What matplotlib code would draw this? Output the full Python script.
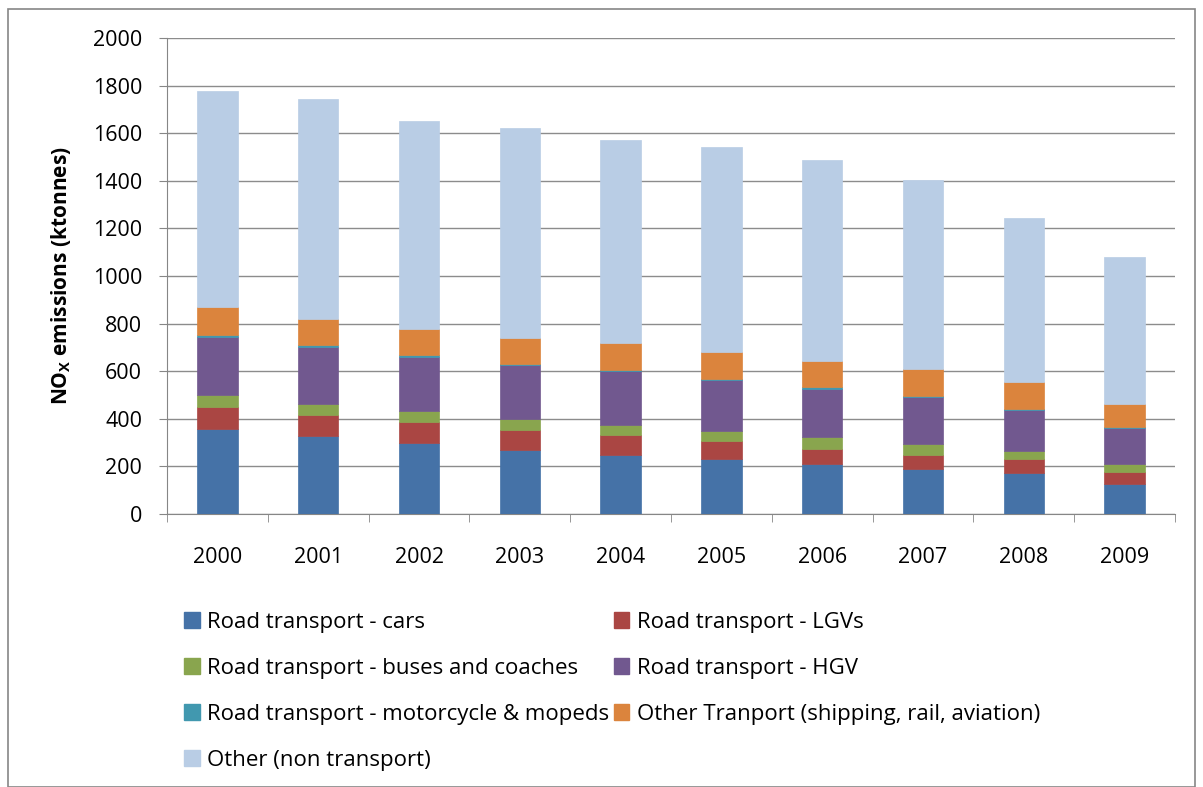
import matplotlib
matplotlib.use("Agg")
import matplotlib.pyplot as plt
from matplotlib.patches import Rectangle, Patch
import numpy as np

years = ["2000", "2001", "2002", "2003", "2004", "2005", "2006", "2007", "2008", "2009"]
cars = [359, 329, 298, 271, 250, 229, 208, 188, 173, 125]
lgvs = [89, 88, 88, 83, 83, 78, 67, 62, 56, 53]
buses = [50, 46, 46, 46, 42, 41, 48, 46, 36, 30]
hgv = [247, 240, 229, 226, 225, 215, 204, 194, 173, 153]
moto = [6, 6, 6, 4, 4, 6, 5, 4, 4, 4]
other_transport = [117, 112, 112, 108, 115, 112, 112, 114, 114, 98]
other_non_transport = [910, 924, 871, 884, 853, 859, 844, 797, 689, 615]

series = [
    ("Road transport - cars", cars, "#4572A7"),
    ("Road transport - LGVs", lgvs, "#AA4643"),
    ("Road transport - buses and coaches", buses, "#89A54E"),
    ("Road transport - HGV", hgv, "#71588F"),
    ("Road transport - motorcycle & mopeds", moto, "#4198AF"),
    ("Other Tranport (shipping, rail, aviation)", other_transport, "#DB843D"),
    ("Other (non transport)", other_non_transport, "#B9CDE5"),
]

plt.rcParams['font.family'] = ['Open Sans', 'DejaVu Sans']

W, H = 1203, 787
fig = plt.figure(figsize=(W / 100, H / 100), dpi=100)
ax = fig.add_axes([167 / W, 1 - 514 / H, (1175 - 167) / W, (514 - 38) / H])

x = np.arange(len(years))
bottom = np.zeros(len(years))
handles = []
for name, vals, col in series:
    v = np.array(vals, dtype=float)
    ax.bar(x, v, 0.4, bottom=bottom, color=col, edgecolor=col, linewidth=0.5, zorder=3)
    bottom += v
    handles.append(Patch(facecolor=col, edgecolor=col, label=name))

ax.set_xlim(-0.5, len(years) - 0.5)
ax.set_ylim(0, 2000)
ax.set_yticks(range(0, 2001, 200))
ax.set_xticks(x)
ax.set_xticklabels(years)
ax.set_xticks(np.arange(-0.5, len(years), 1.0), minor=True)
ax.tick_params(axis='x', which='major', length=0, pad=24, labelsize=15.5)
ax.tick_params(axis='x', which='minor', length=6, color='#868686', direction='out')
ax.tick_params(axis='y', length=6, color='#868686', direction='out', pad=12, labelsize=15.5)
ax.yaxis.grid(True, color='#8c8c8c', linewidth=1.0, zorder=0)
ax.set_axisbelow(True)
for s in ['top', 'right']:
    ax.spines[s].set_visible(False)
ax.spines['left'].set_color('#868686')
ax.spines['bottom'].set_color('#868686')

ax.set_ylabel(r"NO$_\mathregular{X}$ emissions (ktonnes)", fontsize=15, fontweight='bold', labelpad=14)

# row-major legend order via column-major fill
order = [0, 2, 4, 6, 1, 3, 5]
leg = fig.legend(handles=[handles[i] for i in order], loc='upper left',
                 bbox_to_anchor=(164 / W, 1 - 592 / H),
                 ncol=2, frameon=False, fontsize=16, handlelength=0.7, handleheight=0.7,
                 handletextpad=0.35, columnspacing=0.2, labelspacing=1.12)

fig.patches.append(Rectangle((8 / W, 0.0), (1195 - 8) / W, 1 - 9 / H, transform=fig.transFigure,
                             fill=False, edgecolor='#868686', linewidth=1.2))

fig.savefig("out.png", dpi=100)
